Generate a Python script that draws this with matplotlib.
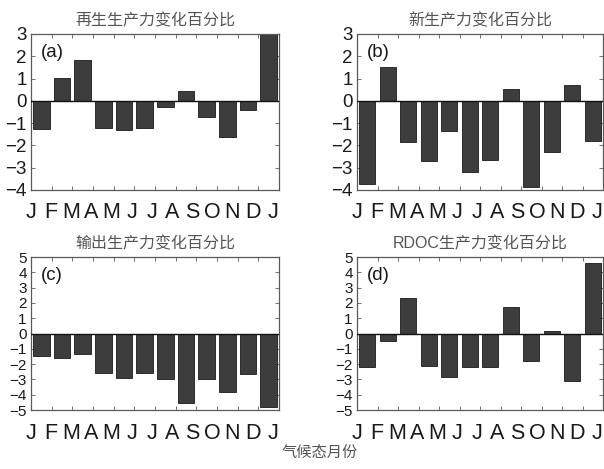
import matplotlib
matplotlib.use("Agg")
import matplotlib.pyplot as plt
import numpy as np

plt.rcParams['font.family'] = ['Liberation Sans', 'Noto Sans CJK SC', 'DejaVu Sans']

# Climatological month labels (Jan ... Dec, Jan)
month_labels = ["J", "F", "M", "A", "M", "J", "J", "A", "S", "O", "N", "D", "J"]
months = np.arange(1, 13)

# Percentage change of each production term per month
regen_pct = [-1.28, 1.01, 1.82, -1.20, -1.32, -1.20, -0.26, 0.46, -0.71, -1.64, -0.39, 3.0]
new_pct = [-3.72, 1.54, -1.86, -2.68, -1.35, -3.17, -2.64, 0.54, -3.86, -2.31, 0.69, -1.82]
export_pct = [-1.50, -1.63, -1.37, -2.60, -2.93, -2.60, -2.98, -4.54, -2.98, -3.83, -2.67, -4.80]
rdoc_pct = [-2.22, -0.52, 2.35, -2.11, -2.87, -2.22, -2.22, 1.76, -1.83, 0.17, -3.09, 4.63]

titles = ["再生生产力变化百分比", "新生产力变化百分比", "输出生产力变化百分比", "RDOC生产力变化百分比"]
panel_tags = ["(a)", "(b)", "(c)", "(d)"]
series = [regen_pct, new_pct, export_pct, rdoc_pct]
ylims = [(-4, 3), (-4, 3), (-5, 5), (-5, 5)]
ylabel_sizes = [13.5, 13.5, 11, 11]

W, H = 604, 469
fig = plt.figure(figsize=(W / 100, H / 100), dpi=100)
fig.patch.set_facecolor("white")

# axes boxes in pixels: left, right, top, bottom
boxes = [(31, 279, 34, 190), (357, 603, 34, 190),
         (31, 279, 257, 410), (357, 603, 257, 410)]

frame_col = "#5a5a5a"
for box, vals, title, tag, yl, ys in zip(boxes, series, titles, panel_tags,
                                         ylims, ylabel_sizes):
    l, r, t, b = box
    ax = fig.add_axes([l / W, 1 - b / H, (r - l) / W, (b - t) / H])
    ax.bar(months, vals, width=0.8, color="#3d3d3d", edgecolor="#1a1a1a",
           linewidth=0.6, zorder=2)
    ax.axhline(0, color="#111111", lw=1.0, zorder=3)
    ax.set_xlim(0.5, 12.5)
    ax.set_ylim(*yl)
    # tick marks between months, letters spread slightly tighter
    ax.set_xticks(np.arange(0.5, 13.0, 1.0), minor=True)
    ax.set_xticks(np.linspace(0.5, 12.2, 13))
    ax.set_xticklabels(month_labels)
    ax.set_yticks(np.arange(yl[0], yl[1] + 1, 1))
    ax.tick_params(axis="x", which="major", length=0, labelsize=15.5, pad=9,
                   labelcolor="#1a1a1a")
    ax.tick_params(axis="x", which="minor", direction="in", top=True,
                   bottom=True, length=3, width=0.6, color=frame_col)
    ax.tick_params(axis="y", direction="in", right=True, length=3, width=0.6,
                   color=frame_col, labelsize=ys, pad=3, labelcolor="#1a1a1a")
    for s in ax.spines.values():
        s.set_color(frame_col)
        s.set_linewidth(0.9)
    ax.set_title(title, fontsize=11.5, color="#555555", pad=6)
    ax.text(0.04, 0.88, tag, transform=ax.transAxes, fontsize=13.5,
            color="#1a1a1a", va="center", ha="left")

fig.text(320 / W, 1 - 453 / H, "气候态月份", fontsize=11, color="#555555",
         ha="center", va="center")

fig.savefig("out.png", dpi=100, facecolor="white")
